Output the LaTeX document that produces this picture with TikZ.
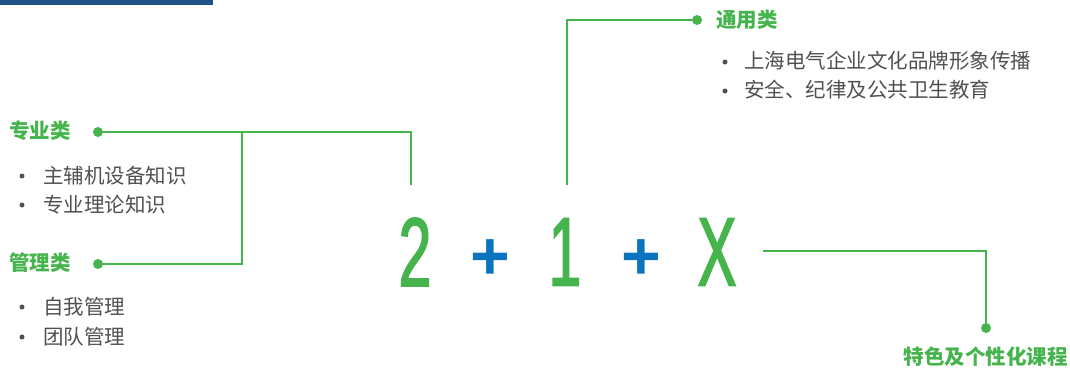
\documentclass[tikz,border=0pt]{standalone}
\usepackage{fontspec}
\newfontfamily\cjk{Noto Sans CJK SC}
\newfontfamily\numfont[FakeStretch=0.6,FakeBold=1.5]{Liberation Sans}
\newfontfamily\plusfont{Liberation Sans}
\definecolor{lgreen}{RGB}{69,180,77}
\definecolor{pblue}{RGB}{10,117,190}
\definecolor{tgray}{RGB}{80,80,80}
\definecolor{barblue}{RGB}{31,82,137}
\tikzset{
 head/.style={anchor=west,inner sep=0,text=lgreen,font=\cjk\bfseries\fontsize{20.5}{21}\selectfont},
 item/.style={anchor=west,inner sep=0,text=tgray,font=\cjk\fontsize{20.5}{21}\selectfont},
 dot/.style={circle,fill=lgreen,inner sep=0,minimum size=10},
 bul/.style={circle,fill=tgray,inner sep=0,minimum size=5},
 big/.style={inner sep=0,text=lgreen,font=\numfont\fontsize{98}{98}\selectfont},
 plus/.style={inner sep=0,text=pblue,font=\plusfont\bfseries\fontsize{68}{68}\selectfont},
 link/.style={draw=lgreen,line width=2.5}}
\begin{document}
\begin{tikzpicture}[x=1pt,y=-1pt]
\useasboundingbox(0,0)rectangle(1070,368);
\fill[barblue](0,0)rectangle(213,5);
% 2 + 1 + X
\node[big](two)at(415,252){2};\node[plus](p1)at(490,260){+};
\node[big](one)at(565,252){1};\node[plus](p2)at(641,260){+};
\node[big](ex)at(717,252){X};
\coordinate(t2)at(411,185);\coordinate(t1)at(567,185);\coordinate(tx)at(763,251);
% left side
\node[head](zy)at(9,131){专业类};\node[dot](d1)at(98,132){};
\node[bul](b1)at(22,176){};\node[item](i1)at(43,176){主辅机设备知识};
\node[bul](b2)at(22,205){};\node[item](i2)at(43,205){专业理论知识};
\node[head](gl)at(9,263){管理类};\node[dot](d2)at(98,264){};
\node[bul](b3)at(22,307){};\node[item](i3)at(43,307){自我管理};
\node[bul](b4)at(22,337){};\node[item](i4)at(43,337){团队管理};
\coordinate(br)at(242,132);
\draw[link](d1)-|(t2);\draw[link](d2)-|(br);
% top
\node[dot](d3)at(697,20){};\node[head](ty)at(716,20){通用类};
\node[bul](b5)at(725,62){};\node[item](i5)at(744,61){上海电气企业文化品牌形象传播};
\node[bul](b6)at(725,91){};\node[item](i6)at(744,90){安全、纪律及公共卫生教育};
\draw[link](t1)|-(d3);
% right
\node[dot](d4)at(986,328){};\node[head,anchor=east](ts)at(1068,357){特色及个性化课程};
\draw[link](tx)-|(d4);
\end{tikzpicture}
\end{document}
